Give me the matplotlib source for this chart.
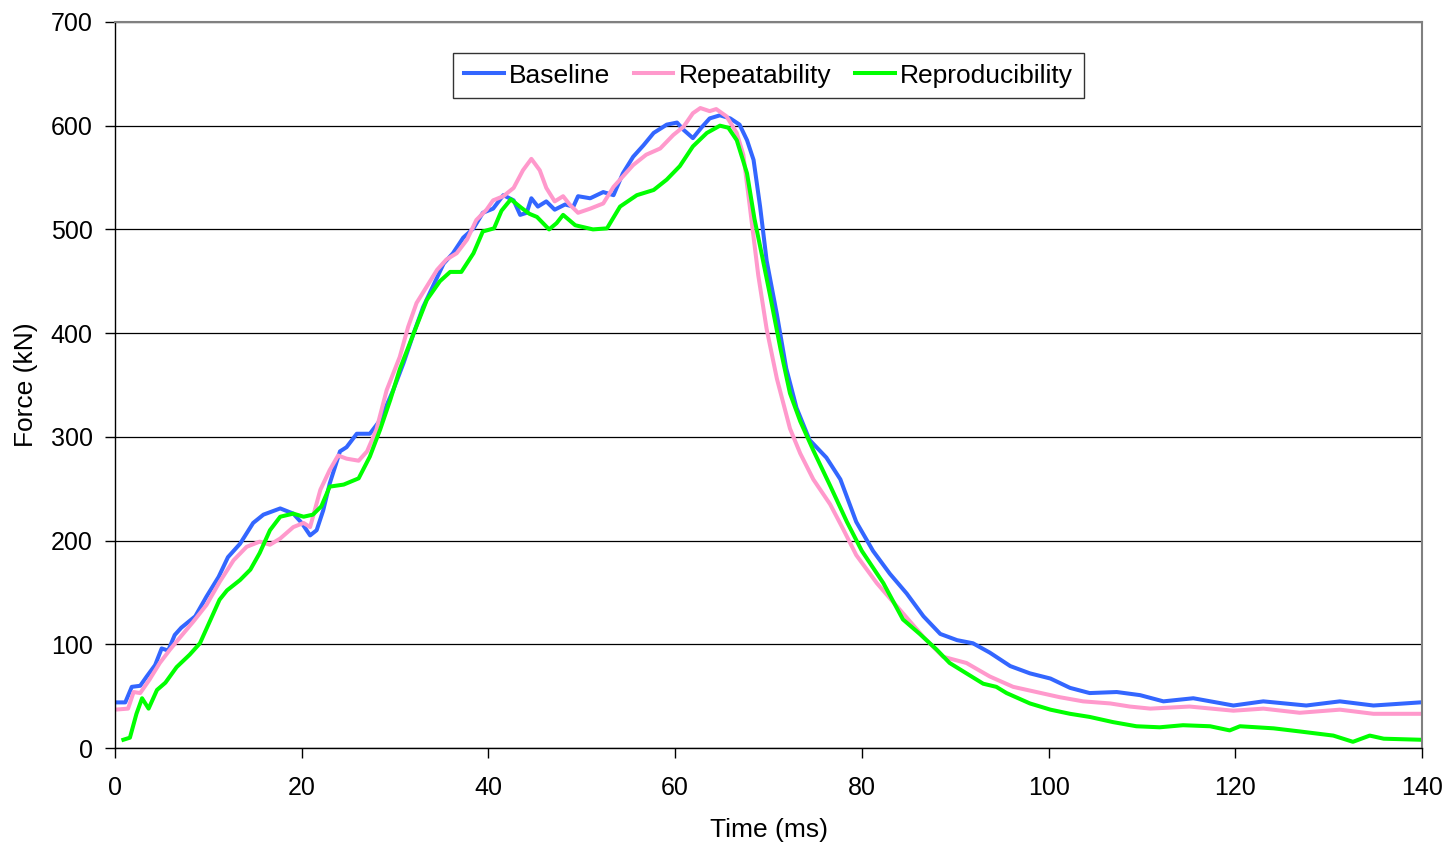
import matplotlib
matplotlib.use("Agg")
import matplotlib.pyplot as plt

plt.rcParams["font.family"] = ["Liberation Sans", "DejaVu Sans"]

# (time ms, force kN)
baseline = [
    (0, 44), (1.1, 44), (1.8, 59), (2.7, 60), (3.4, 69), (4.3, 80), (5.0, 96), (5.7, 94),
    (6.4, 109), (7.1, 116), (8.6, 127), (9.8, 146), (11.1, 165), (12.1, 184), (13.4, 197),
    (14.8, 217), (15.9, 225), (17.7, 231), (19.1, 226), (20.0, 217), (20.9, 205), (21.6, 210),
    (22.3, 229), (23.0, 255), (24.1, 286), (24.8, 290), (25.9, 303), (27.3, 303), (28.4, 316),
    (29.8, 345), (30.9, 371), (32.0, 400), (33.0, 425), (34.1, 446), (35.2, 467), (36.2, 477),
    (37.3, 492), (38.4, 501), (39.4, 516), (40.5, 520), (41.6, 533), (42.7, 528), (43.4, 514),
    (44.1, 516), (44.6, 530), (45.3, 522), (46.2, 527), (47.1, 519), (48.2, 524), (49.1, 522),
    (49.6, 532), (50.9, 530), (52.3, 536), (53.4, 533), (54.4, 554), (55.5, 570), (56.6, 581),
    (57.7, 593), (59.1, 601), (60.2, 603), (60.9, 596), (61.9, 588), (62.8, 598), (63.7, 607),
    (64.8, 610), (65.9, 607), (66.9, 601), (67.7, 586), (68.4, 567), (69.1, 522), (69.8, 470),
    (70.9, 418), (71.9, 366), (73.0, 328), (74.4, 297), (76.2, 280), (77.7, 259), (79.4, 218),
    (81.2, 190), (83.0, 168), (84.8, 149), (86.6, 127), (88.4, 110), (90.2, 104), (91.9, 101),
    (93.7, 92), (95.9, 79), (98.0, 72), (100.2, 67), (102.3, 58), (104.4, 53), (107.3, 54),
    (109.8, 51), (112.3, 45), (115.5, 48), (119.8, 41), (123.0, 45), (127.6, 41), (131.2, 45),
    (134.8, 41), (139.8, 44),
]

repeatability = [
    (0, 37), (1.4, 38), (2.0, 54), (2.7, 53), (3.7, 66), (4.8, 82), (5.9, 95), (7.0, 107),
    (8.4, 122), (9.8, 138), (11.2, 160), (12.7, 181), (14.1, 194), (15.5, 199), (16.6, 196),
    (17.7, 202), (19.1, 213), (20.2, 217), (20.9, 213), (22.0, 249), (23.0, 268), (23.9, 282),
    (24.8, 279), (26.1, 277), (27.0, 286), (28.0, 307), (29.1, 345), (30.5, 377), (31.4, 406),
    (32.3, 429), (33.4, 445), (34.5, 461), (35.5, 471), (36.6, 477), (37.7, 490), (38.7, 509),
    (39.8, 519), (40.5, 528), (41.6, 532), (42.7, 540), (43.7, 557), (44.6, 568), (45.5, 557),
    (46.2, 540), (47.1, 527), (48.0, 532), (48.7, 524), (49.6, 516), (50.9, 520), (52.3, 525),
    (53.4, 541), (54.4, 551), (55.5, 562), (56.9, 572), (58.4, 578), (59.8, 591), (60.9, 599),
    (61.9, 612), (62.7, 617), (63.7, 614), (64.4, 616), (65.5, 609), (66.6, 593), (67.3, 572),
    (68.0, 522), (68.9, 456), (69.8, 404), (70.9, 356), (72.3, 308), (73.4, 284), (74.8, 259),
    (76.6, 235), (78.0, 211), (79.4, 186), (81.6, 159), (84.1, 133), (86.6, 107), (88.7, 88),
    (91.2, 82), (93.7, 69), (96.2, 59), (98.7, 54), (101.2, 49), (103.7, 45), (106.6, 43),
    (108.7, 40), (110.9, 38), (115.1, 40), (119.8, 36), (123.0, 38), (126.9, 34), (131.2, 37),
    (134.8, 33), (139.8, 33),
]

reproducibility = [
    (0.9, 8), (1.6, 10), (2.3, 33), (2.9, 48), (3.6, 38), (4.5, 56), (5.4, 63), (6.6, 78),
    (8.0, 90), (9.1, 101), (10.2, 123), (11.2, 143), (12.0, 152), (13.4, 162), (14.5, 172),
    (15.5, 188), (16.6, 210), (17.7, 223), (19.1, 226), (20.2, 223), (21.2, 225), (22.1, 233),
    (23.0, 252), (24.5, 254), (26.1, 260), (27.3, 281), (28.4, 307), (29.5, 336), (30.5, 365),
    (32.0, 400), (33.4, 432), (34.8, 450), (35.9, 459), (37.1, 459), (38.4, 477), (39.4, 498),
    (40.6, 501), (41.4, 518), (42.4, 529), (43.5, 521), (44.4, 515), (45.2, 512), (46.5, 500),
    (47.3, 506), (48.0, 514), (49.3, 504), (51.2, 500), (52.7, 501), (54.1, 522), (55.9, 533),
    (57.7, 538), (59.1, 548), (60.5, 561), (61.9, 580), (63.4, 593), (64.8, 600), (65.7, 598),
    (66.6, 586), (67.7, 554), (68.5, 510), (69.3, 475), (70.2, 435), (71.3, 384), (72.3, 342),
    (73.4, 315), (74.8, 287), (76.6, 253), (78.4, 218), (80.0, 190), (82.3, 159), (84.4, 124),
    (86.2, 110), (88.0, 95), (89.4, 82), (91.2, 72), (93.0, 62), (94.4, 59), (95.5, 53),
    (98.0, 43), (100.2, 37), (102.3, 33), (104.4, 30), (106.9, 25), (109.4, 21), (111.9, 20),
    (114.4, 22), (117.3, 21), (119.4, 17), (120.5, 21), (124.1, 19), (126.9, 16), (130.5, 12),
    (132.6, 6), (134.4, 12), (135.9, 9), (139.8, 8),
]

series = [
    ("Baseline", baseline, "#3366FF"),
    ("Repeatability", repeatability, "#FF99CC"),
    ("Reproducibility", reproducibility, "#00FF00"),
]

fig = plt.figure(figsize=(14.5, 8.44), dpi=100)
ax = fig.add_axes([0.0793, 0.1137, 0.9014, 0.8603])

for name, pts, color in series:
    t = [p[0] for p in pts]
    f = [p[1] for p in pts]
    ax.plot(t, f, color=color, lw=2.9, label=name, solid_joinstyle="round")

ax.set_xlim(0, 140)
ax.set_ylim(0, 700)
ax.set_xticks(range(0, 141, 20))
ax.set_yticks(range(0, 701, 100))
ax.yaxis.grid(True, color="black", lw=0.9)
ax.set_axisbelow(True)

for side in ("top", "right"):
    ax.spines[side].set_color("#808080")
    ax.spines[side].set_linewidth(1.5)
for side in ("left", "bottom"):
    ax.spines[side].set_color("black")
    ax.spines[side].set_linewidth(1.0)

ax.tick_params(direction="out", length=7, width=1, labelsize=18)
ax.tick_params(axis="x", pad=13)
ax.tick_params(axis="y", pad=9)
ax.set_xlabel("Time (ms)", fontsize=19, labelpad=13)
ax.set_ylabel("Force (kN)", fontsize=19, labelpad=9)

leg = ax.legend(loc="upper center", bbox_to_anchor=(0.5, 0.957), ncol=3, fontsize=19,
                frameon=True, fancybox=False, edgecolor="black", handlelength=1.5,
                handletextpad=0.2, columnspacing=0.9, borderpad=0.4, borderaxespad=0)
leg.get_frame().set_linewidth(1.0)

fig.savefig("out.png", dpi=100)
